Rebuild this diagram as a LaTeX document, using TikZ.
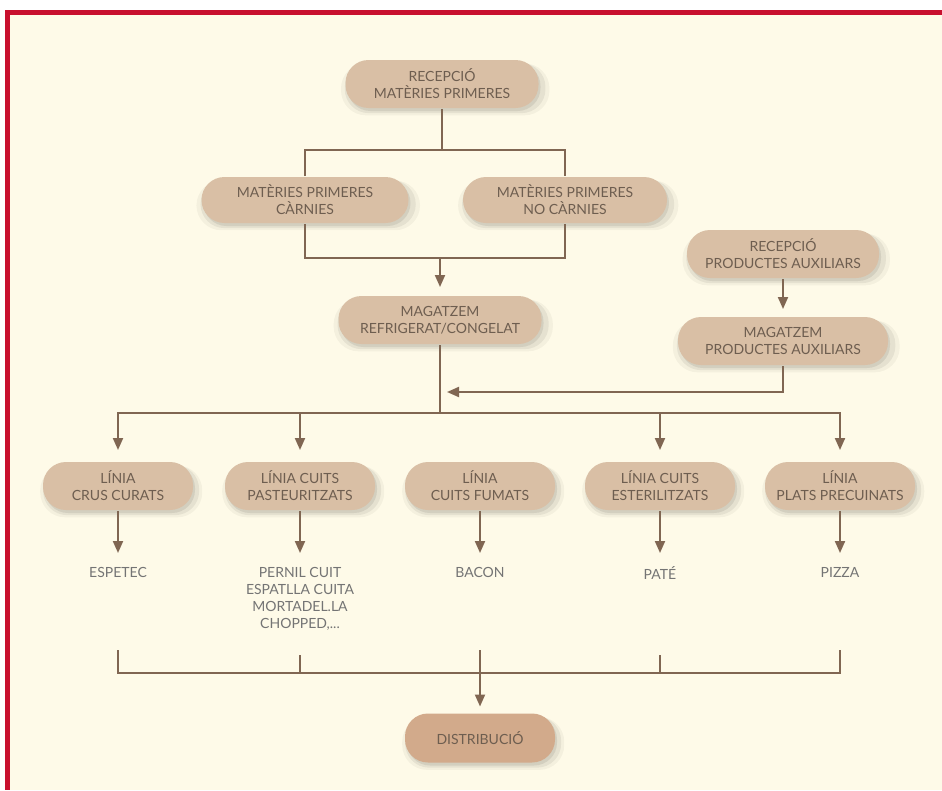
\documentclass[tikz,border=0pt]{standalone}
\usepackage{fontspec}
\setmainfont{Lato}
\usetikzlibrary{arrows.meta,shadows}
\definecolor{paper}{HTML}{FEFAE8}
\definecolor{framered}{HTML}{C8102E}
\definecolor{pill}{HTML}{D9BFA5}
\definecolor{pilldark}{HTML}{D2AA8B}
\definecolor{linebrown}{HTML}{806652}
\definecolor{pilltext}{HTML}{6E5E50}
\definecolor{prodtext}{HTML}{747474}
\begin{document}
\begin{tikzpicture}[x=1pt,y=-1pt,line width=2pt,
    softshadow/.style={general shadow={shadow xshift=3pt,shadow yshift=-5pt,shadow scale=1.08,fill=black,opacity=.04},
                       general shadow={shadow xshift=3pt,shadow yshift=-4pt,shadow scale=1.04,fill=black,opacity=.06},
                       general shadow={shadow xshift=2pt,shadow yshift=-3pt,fill=black,opacity=.08}},
    pillbox/.style={softshadow,fill=pill,text=pilltext,rounded corners=23pt,minimum height=48pt,
                    inner sep=0pt,align=center,font=\fontsize{14}{17}\selectfont},
    prodlabel/.style={text=prodtext,anchor=north,inner xsep=0pt,inner ysep=13pt,align=center,
                      font=\fontsize{14}{17}\selectfont},
    wire/.style={draw=linebrown},
    arr/.style={wire,-{Triangle[width=10pt,length=12pt]}}]
    \fill[white] (0,0) rectangle (942,790);
    \fill[paper] (5,10) rectangle (942,790);
    \fill[framered] (5,10) rectangle (942,15);
    \fill[framered] (5,10) rectangle (10,790);

    \node[pillbox,minimum width=193pt] (rmp) at (442,84) {RECEPCIÓ\\MATÈRIES PRIMERES};
    \node[pillbox,minimum width=207pt,minimum height=46pt] (mpc) at (305,200) {MATÈRIES PRIMERES\\CÀRNIES};
    \node[pillbox,minimum width=204pt,minimum height=46pt] (mpn) at (565,200) {MATÈRIES PRIMERES\\NO CÀRNIES};
    \node[pillbox,minimum width=203pt] (mag) at (440,320) {MAGATZEM\\REFRIGERAT/CONGELAT};
    \node[pillbox,minimum width=192pt] (rpa) at (783,254) {RECEPCIÓ\\PRODUCTES AUXILIARS};
    \node[pillbox,minimum width=210pt] (mpa) at (783,341) {MAGATZEM\\PRODUCTES AUXILIARS};

    \node[pillbox,minimum width=150pt] (l1) at (118,486) {LÍNIA\\CRUS CURATS};
    \node[pillbox,minimum width=150pt] (l2) at (300,486) {LÍNIA CUITS\\PASTEURITZATS};
    \node[pillbox,minimum width=150pt] (l3) at (480,486) {LÍNIA\\CUITS FUMATS};
    \node[pillbox,minimum width=150pt] (l4) at (660,486) {LÍNIA CUITS\\ESTERILITZATS};
    \node[pillbox,minimum width=150pt] (l5) at (840,486) {LÍNIA\\PLATS PRECUINATS};

    \node[prodlabel] (o1) at (118,553) {ESPETEC};
    \node[prodlabel] (o2) at (300,553) {PERNIL CUIT\\ESPATLLA CUITA\\MORTADEL.LA\\CHOPPED,...};
    \node[prodlabel] (o3) at (480,553) {BACON};
    \node[prodlabel] (o4) at (660,553) {PATÉ};
    \node[prodlabel] (o5) at (840,553) {PIZZA};

    \node[pillbox,fill=pilldark,minimum width=150pt,minimum height=49pt] (dis) at (480,738) {DISTRIBUCIÓ};

    \coordinate (split1) at (442,150);
    \coordinate (join1) at (440,258);
    \coordinate (aux) at (447,392);
    \coordinate (split2) at (440,413);
    \coordinate (join2) at (480,673);

    \draw[wire] (rmp.south) -- (split1);
    \draw[wire] (mpc.north) |- (split1) -| (mpn.north);
    \draw[wire] (mpc.south) |- (join1) -| (mpn.south);
    \draw[arr,shorten >=8pt] (join1) -- (mag.north);

    \draw[arr,shorten >=7pt] (rpa.south) -- (mpa.north);
    \draw[arr] (mpa.south) |- (aux);

    \draw[wire] (mag.south) -- (split2);
    \foreach \n in {l1,l2,l4,l5}
        \draw[arr,shorten >=11pt] (split2) -| (\n.north);
    \foreach \n in {1,...,5}
        \draw[arr] (l\n.south) -- (o\n.north);

    \coordinate (b1) at (118,650);
    \coordinate (b2) at (300,655);
    \coordinate (b3) at (480,650);
    \coordinate (b4) at (660,655);
    \coordinate (b5) at (840,650);
    \draw[wire] (b1) |- (join2) -| (b5);
    \draw[wire] (b2) -- (b2 |- join2);
    \draw[wire] (b4) -- (b4 |- join2);
    \draw[arr,shorten >=6pt] (b3) -- (dis.north);
\end{tikzpicture}
\end{document}
